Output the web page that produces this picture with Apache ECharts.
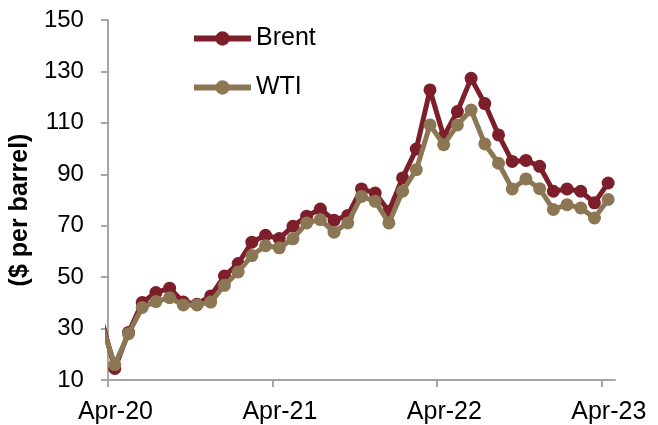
<!DOCTYPE html>
<html>
<head>
<meta charset="utf-8">
<script src="https://cdn.jsdelivr.net/npm/echarts@6/dist/echarts.min.js"></script>
<style>
  html, body { margin: 0; padding: 0; background: #fff; }
  #chart { width: 658px; height: 425px; }
</style>
</head>
<body>
<div id="chart"></div>
<script>
// Monthly average crude prices, $ per barrel
const months = [
  '2020-03', '2020-04', '2020-05', '2020-06', '2020-07', '2020-08', '2020-09', '2020-10',
  '2020-11', '2020-12', '2021-01', '2021-02', '2021-03', '2021-04', '2021-05', '2021-06',
  '2021-07', '2021-08', '2021-09', '2021-10', '2021-11', '2021-12', '2022-01', '2022-02',
  '2022-03', '2022-04', '2022-05', '2022-06', '2022-07', '2022-08', '2022-09', '2022-10',
  '2022-11', '2022-12', '2023-01', '2023-02', '2023-03', '2023-04'
];
const brent = [
  34, 14.5, 28.5, 40.1, 44, 45.7, 40.3, 39.5,
  42.7, 50.4, 55.3, 63.6, 66.3, 65, 69.8, 73.7,
  76.5, 72.1, 74, 84.3, 82.7, 75.6, 88.6, 99.8,
  122.8, 104.7, 114.4, 127.3, 117.5, 105.3, 95, 95.4,
  93.1, 83.4, 84.3, 83.4, 78.9, 86.6
];
const wti = [
  32, 16, 28, 38.2, 40.5, 42, 39.2, 39.2,
  40.3, 46.8, 52, 58.4, 62.2, 61.4, 64.9, 71.1,
  72.4, 67.5, 71.1, 81.4, 79.5, 71.1, 83.4, 91.8,
  109.2, 101.5, 109.2, 115, 101.8, 94.3, 84.3, 88.2,
  84.4, 76.3, 78.2, 76.9, 73, 80.2
];
const xTickLabels = ['Apr-20', 'Apr-21', 'Apr-22', 'Apr-23'];
const yTicks = [10, 30, 50, 70, 90, 110, 130, 150];

// x position: months since April 2020, each value placed mid-month
function monthPos(s) {
  const [y, m] = s.split('-').map(Number);
  return (y - 2020) * 12 + (m - 4) + 0.5;
}
const pairs = arr => months.map((mo, i) => [monthPos(mo), arr[i]]);

const FONT = 'Liberation Sans, Arial, sans-serif';
const AXIS_GRAY = '#a6a6a6';
const BRENT_RED = '#7d1f2a';
const WTI_TAN = '#8c7755';

const chart = echarts.init(document.getElementById('chart'), null, { renderer: 'canvas' });
chart.setOption({
  animation: false,
  backgroundColor: '#fff',
  grid: { left: 107, right: 43, top: 20, bottom: 44, containLabel: false },
  legend: {
    orient: 'vertical',
    left: 186,
    top: 21,
    itemWidth: 57,
    itemHeight: 18,
    itemGap: 24,
    lineStyle: { width: 6 },
    textStyle: { fontFamily: FONT, fontSize: 25, color: '#000' },
    data: ['Brent', 'WTI']
  },
  xAxis: {
    type: 'value',
    min: 0,
    max: 37,
    interval: 12,
    axisLine: { show: true, lineStyle: { color: AXIS_GRAY, width: 2 } },
    axisTick: { show: true, customValues: [0, 12, 24, 36], length: 7, lineStyle: { color: AXIS_GRAY, width: 2 } },
    axisLabel: {
      customValues: [0, 12, 24, 36],
      formatter: v => xTickLabels[Math.round(v / 12)] || '',
      fontFamily: FONT, fontSize: 25, color: '#000', margin: 20,
      padding: [0, 0, 0, 15]
    },
    splitLine: { show: false }
  },
  yAxis: {
    type: 'value',
    min: 10,
    max: 150,
    interval: 20,
    name: '($ per barrel)',
    nameLocation: 'middle',
    nameGap: 70,
    nameTextStyle: {
      fontFamily: FONT, fontSize: 25, fontWeight: 'bold', color: '#000',
      padding: [0, 20, 0, 0]
    },
    axisLine: { show: true, lineStyle: { color: AXIS_GRAY, width: 2 } },
    axisTick: { show: true, length: 7, lineStyle: { color: AXIS_GRAY, width: 2 } },
    axisLabel: {
      formatter: v => (yTicks.includes(v) ? String(v) : ''),
      fontFamily: FONT, fontSize: 24, color: '#000', margin: 24
    },
    splitLine: { show: false }
  },
  series: [
    {
      name: 'Brent',
      type: 'line',
      data: pairs(brent),
      clip: true,
      symbol: 'circle',
      symbolSize: 13,
      itemStyle: { color: BRENT_RED },
      lineStyle: { color: BRENT_RED, width: 5 },
      z: 2
    },
    {
      name: 'WTI',
      type: 'line',
      data: pairs(wti),
      clip: true,
      symbol: 'circle',
      symbolSize: 13,
      itemStyle: { color: WTI_TAN },
      lineStyle: { color: WTI_TAN, width: 5 },
      z: 3
    }
  ]
});
</script>
</body>
</html>
